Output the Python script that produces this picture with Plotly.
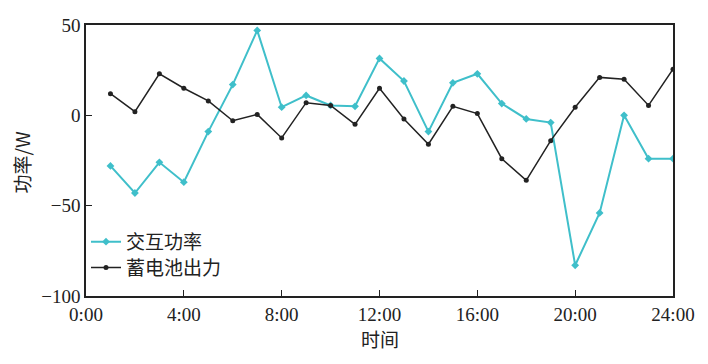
import plotly.graph_objects as go

hours = list(range(1, 25))
exchange_power = [-28, -43, -26, -37, -9, 17, 47, 4.5, 11, 5.5, 5, 31.5,
                  19, -9, 18, 23, 6.5, -2, -4, -83, -54, 0, -24, -24]
battery_output = [12, 2, 23, 15, 8, -3, 0.5, -12.5, 7, 5.5, -5, 15,
                  -2, -16, 5, 1, -24, -36, -14, 4.5, 21, 20, 5.5, 25.5]
x_tickvals = [0, 4, 8, 12, 16, 20, 24]
x_ticktext = ["0:00", "4:00", "8:00", "12:00", "16:00", "20:00", "24:00"]
y_tickvals = [-100, -50, 0, 50]

teal = "#3fbfca"
cjk = "Noto Sans CJK SC"
serif = "Liberation Serif, DejaVu Serif, serif"

fig = go.Figure()
fig.add_trace(go.Scatter(
    x=hours, y=exchange_power, mode="lines+markers", name="交互功率",
    line=dict(color=teal, width=2),
    marker=dict(symbol="diamond", size=6, color=teal),
    legend="legend",
))
fig.add_trace(go.Scatter(
    x=hours, y=battery_output, mode="lines+markers", name="蓄电池出力",
    line=dict(color="#222222", width=1.5),
    marker=dict(symbol="circle", size=5, color="#222222"),
    legend="legend2",
))

leg_common = dict(xanchor="left", yanchor="middle", bgcolor="rgba(0,0,0,0)",
                  font=dict(family=cjk, size=19, color="#222"), itemwidth=30)

fig.update_layout(
    width=700, height=356,
    margin=dict(l=78, r=35, t=17, b=68),
    paper_bgcolor="white", plot_bgcolor="white",
    showlegend=True,
    legend=dict(x=0.0, y=0.2, **leg_common),
    legend2=dict(x=0.0, y=0.105, **leg_common),
    xaxis=dict(range=[0, 24], tickvals=x_tickvals, ticktext=x_ticktext, automargin=False,
               ticks="inside", ticklen=6, tickcolor="#222", showgrid=False, zeroline=False,
               showline=True, linecolor="#222", linewidth=1.5, mirror=True,
               tickfont=dict(family=serif, size=19, color="#222")),
    yaxis=dict(range=[-100, 50], tickvals=y_tickvals, automargin=False,
               ticks="inside", ticklen=6, tickcolor="#222", showgrid=False, zeroline=False,
               showline=True, linecolor="#222", linewidth=1.5, mirror=True,
               tickfont=dict(family=serif, size=19, color="#222")),
    annotations=[
        dict(text="时间", x=0.5, y=-0.158, xref="paper", yref="paper",
             xanchor="center", yanchor="middle", showarrow=False,
             font=dict(family=cjk, size=19, color="#222")),
        dict(text="功率/W", x=-0.11, y=0.494, xref="paper", yref="paper",
             xanchor="center", yanchor="middle", showarrow=False, textangle=-90,
             font=dict(family=cjk, size=19, color="#222")),
    ],
)

fig.write_html("out.html")
